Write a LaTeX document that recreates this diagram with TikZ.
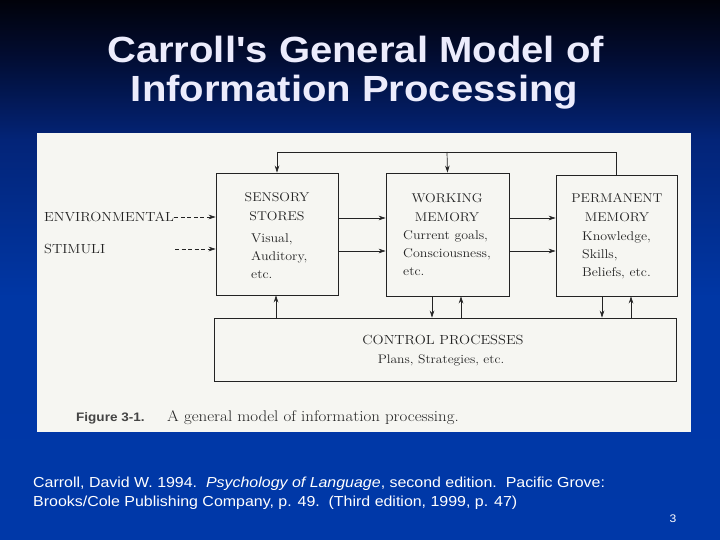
\documentclass[tikz,border=0pt]{standalone}
\usepackage{fontspec}
\usepackage{graphicx}
\setmainfont{Latin Modern Roman}
\newfontfamily\arialfont{Liberation Sans}
\usetikzlibrary{arrows.meta}
\newcommand\hwide[1]{\scalebox{1.1}[1]{#1}}
\definecolor{bgtop}{RGB}{1,2,10}
\definecolor{bgdark}{RGB}{2,12,48}
\definecolor{bgmid}{RGB}{3,36,120}
\definecolor{bgbot}{RGB}{0,56,168}
\definecolor{panelcol}{RGB}{246,246,242}
\definecolor{ink}{RGB}{35,35,35}
\definecolor{titlecol}{RGB}{236,236,252}
\pgfdeclareverticalshading{slidebg}{100bp}{color(0bp)=(bgbot); color(25bp)=(bgbot); color(47.5bp)=(bgbot!94!bgmid); color(62bp)=(bgmid); color(70bp)=(bgdark); color(75bp)=(bgtop); color(100bp)=(bgtop)}
\tikzset{
  box/.style={draw=ink, line width=0.9pt, rectangle, inner sep=0pt},
  conn/.style={draw=ink, line width=0.7pt},
  arr/.style={conn, -{Stealth[length=7pt,width=4.6pt]}},
  darr/.style={arr, dash pattern=on 4pt off 2.5pt},
  head/.style={font=\fontsize{12.7}{19}\selectfont, text=ink, align=center, anchor=north, inner sep=0pt},
  body/.style={font=\fontsize{12.7}{18}\selectfont, text=ink, align=left, anchor=north west, inner sep=0pt},
  lbl/.style={font=\fontsize{13.2}{16}\selectfont, text=ink, inner sep=0pt},
  titl/.style={text=titlecol, font=\arialfont\bfseries\fontsize{36.4}{38}\selectfont, anchor=base, inner sep=0pt},
  cite/.style={text=white, font=\arialfont\fontsize{14.5}{18}\selectfont, anchor=base west, inner sep=0pt}
}
\begin{document}
\begin{tikzpicture}[x=1pt,y=-1pt]
\useasboundingbox (0,0) rectangle (720,540);
\shade[shading=slidebg] (0,0) rectangle (720,540);
% title
\node[titl] (title1) at (355.5,62.3) {\hwide{Carroll's General Model of}};
\node[titl] (title2) at (354.5,101.7) {\hwide{Information Processing}};
% panel
\fill[panelcol] (37,133) rectangle (691,432);
% boxes
\node[box, minimum width=122pt, minimum height=122pt] (sens) at (277,234) {};
\node[box, minimum width=123pt, minimum height=123pt] (work) at (447.5,234.5) {};
\node[box, minimum width=121pt, minimum height=121pt] (perm) at (616.5,235.5) {};
\node[box, minimum width=462pt, minimum height=63pt] (ctrl) at (445,349.5) {};
% box texts
\node[head] (sensh) at (277,192) {\hwide{SENSORY}\\\hwide{STORES}};
\node[body] (sensb) at (251,233) {\hwide{Visual,}\\\hwide{Auditory,}\\\hwide{etc.}};
\node[head] (workh) at (447,193) {\hwide{WORKING}\\\hwide{MEMORY}};
\node[body] (workb) at (403,230) {\hwide{Current goals,}\\\hwide{Consciousness,}\\\hwide{etc.}};
\node[head] (permh) at (617,193) {\hwide{PERMANENT}\\\hwide{MEMORY}};
\node[body] (permb) at (582,231) {\hwide{Knowledge,}\\\hwide{Skills,}\\\hwide{Beliefs, etc.}};
\node[lbl, font=\fontsize{13.2}{16}\selectfont, anchor=base] (ctrlh) at (443,344.5) {\hwide{CONTROL PROCESSES}};
\node[lbl, font=\fontsize{12.4}{14}\selectfont, anchor=base] (ctrlb) at (441,363) {\hwide{Plans, Strategies, etc.}};
% inputs
\node[lbl, anchor=base west] (env) at (44,221.5) {\hwide{ENVIRONMENTAL}};
\node[lbl, anchor=base west] (stim) at (44,253) {\hwide{STIMULI}};
\coordinate (stimstart) at (175,249);
\draw[darr] (env.east |- 0,217) -- (sens.west |- 0,217);
\draw[darr] (stimstart) -- (sens.west |- stimstart);
% top feedback
\coordinate (tl) at (277,152);
\coordinate (tm) at (447,152);
\draw[conn] (perm.north) -- (perm.north |- tl) -- (tl);
\draw[arr] (tl) -- (sens.north);
\draw[arr] (tm) -- (work.north);
% horizontal flows
\coordinate (ya) at (0,218);
\coordinate (yb) at (0,251);
\draw[arr] (sens.east |- ya) -- (work.west |- ya);
\draw[arr] (sens.east |- yb) -- (work.west |- yb);
\draw[arr] (work.east |- ya) -- (perm.west |- ya);
\draw[arr] (work.east |- yb) -- (perm.west |- yb);
% control links
\draw[arr] (ctrl.north -| 276,0) -- (sens.south -| 276,0);
\draw[arr] (work.south -| 432,0) -- (ctrl.north -| 432,0);
\draw[arr] (ctrl.north -| 461,0) -- (work.south -| 461,0);
\draw[arr] (perm.south -| 602,0) -- (ctrl.north -| 602,0);
\draw[arr] (ctrl.north -| 631,0) -- (perm.south -| 631,0);
% caption
\node[anchor=base west, inner sep=0pt, text=ink!85, font=\arialfont\bfseries\fontsize{12.3}{14}\selectfont] (figno) at (76,421.5) {\hwide{Figure 3-1.}};
\node[anchor=base west, inner sep=0pt, text=ink, font=\fontsize{15.4}{17}\selectfont] (figcap) at (167,421.5) {\hwide{A general model of information processing.}};
% citation
\node[cite] (cite1) at (33,487) {\hwide{Carroll, David W. 1994.\ \ \textit{Psychology of Language}, second edition.\ \ Pacific Grove:}};
\node[cite] (cite2) at (33,506.5) {\hwide{Brooks/Cole Publishing Company, p. 49.\ \ (Third edition, 1999, p. 47)}};
\node[anchor=base, inner sep=0pt, text=white, font=\arialfont\fontsize{11}{13}\selectfont] (pnum) at (673,522) {\hwide{3}};
\end{tikzpicture}
\end{document}
